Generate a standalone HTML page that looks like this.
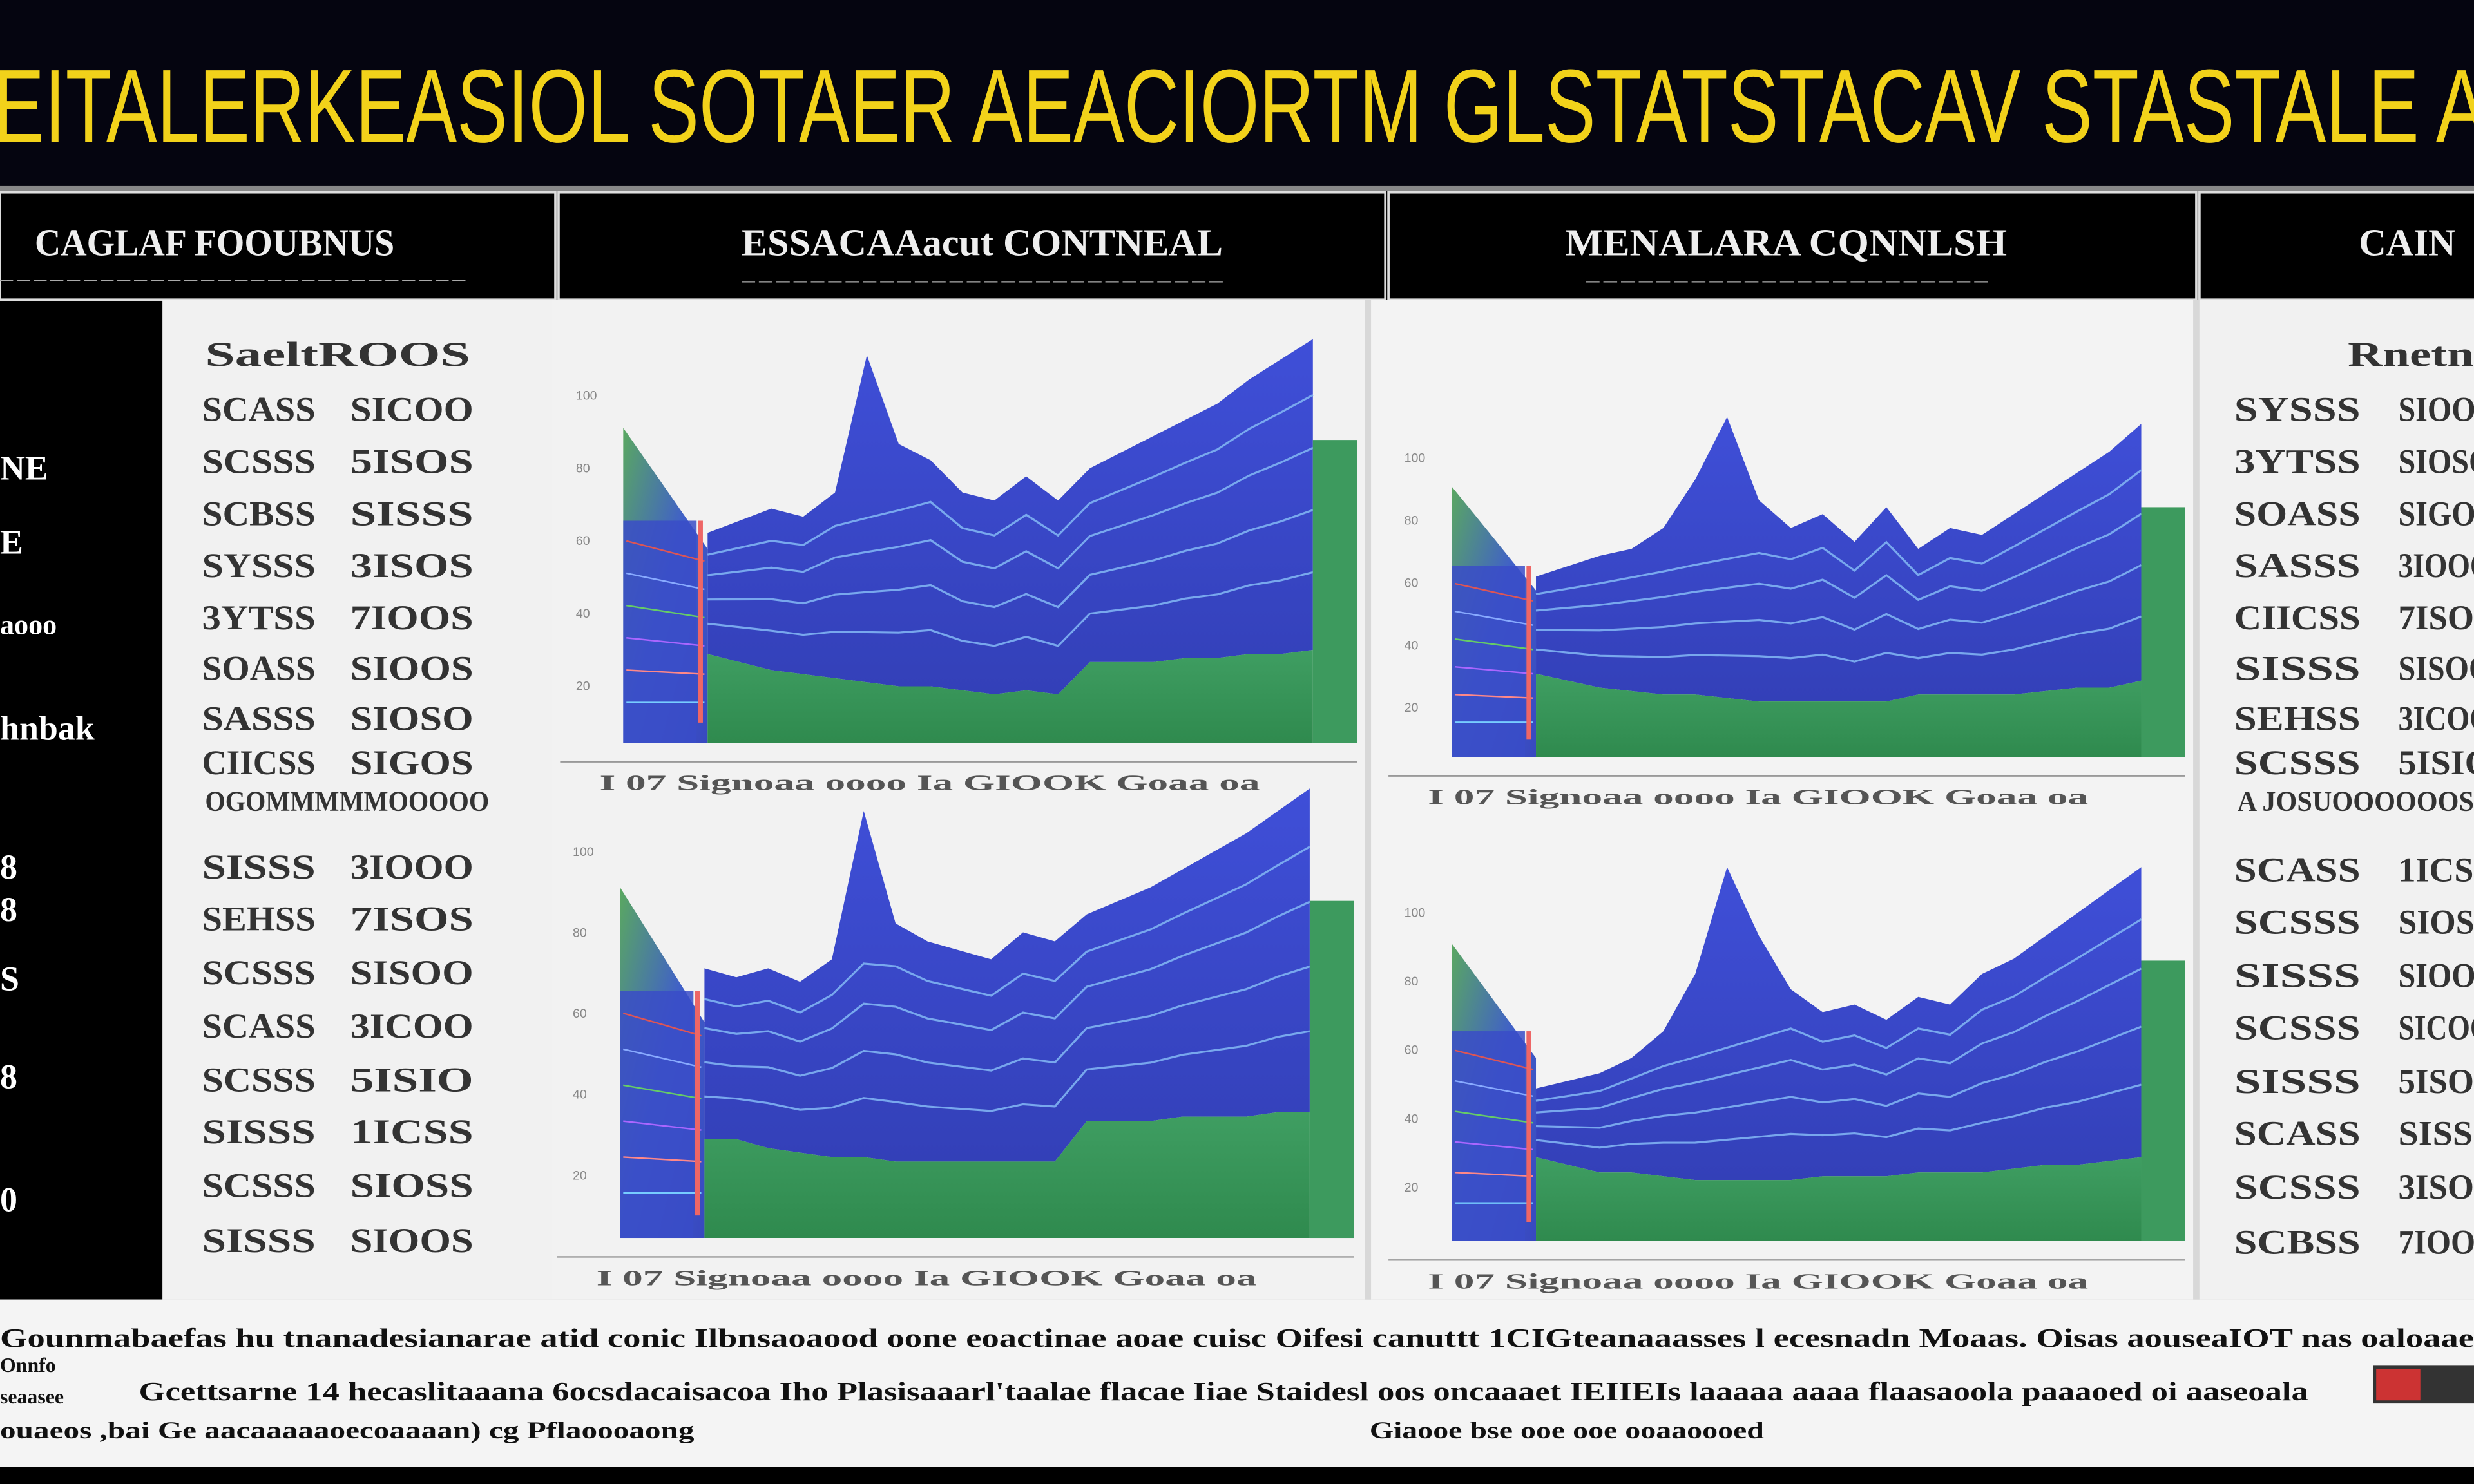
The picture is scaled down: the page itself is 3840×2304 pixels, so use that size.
<!DOCTYPE html>
<html><head><meta charset="utf-8">
<style>
html,body{margin:0;padding:0;background:#000;}
svg{display:block;}
.t{font-family:"Liberation Serif",serif;font-weight:bold;}
.s{font-family:"Liberation Sans",sans-serif;}
</style></head>
<body>
<svg id="page" width="3840" height="2304" viewBox="0 0 1568 941" preserveAspectRatio="none" xmlns="http://www.w3.org/2000/svg">
<defs>
<linearGradient id="blueG" x1="0" y1="0" x2="0" y2="1"><stop offset="0" stop-color="#3f4fd8"/><stop offset="1" stop-color="#3340b8"/></linearGradient>
<linearGradient id="greenG" x1="0" y1="0" x2="0" y2="1"><stop offset="0" stop-color="#3f9e62"/><stop offset="1" stop-color="#2f8a4e"/></linearGradient>
<linearGradient id="wedgeG" x1="0" y1="0" x2="1" y2="1"><stop offset="0" stop-color="#5aa860"/><stop offset="0.5" stop-color="#4060c8"/><stop offset="1" stop-color="#3848c0"/></linearGradient>
</defs>
<rect width="1568" height="941" fill="#000"/>
<rect x="0" y="0" width="1568" height="118" fill="#050510"/>
<text class="s" x="-4" y="90" font-size="66" fill="#f2d21a" textLength="1580" lengthAdjust="spacingAndGlyphs">EITALERKEASIOL SOTAER AEACIORTM GLSTATSTACAV STASTALE A</text>
<rect x="0" y="118" width="1568" height="3" fill="#888"/>
<g>
<rect x="0" y="122" width="352" height="68" fill="#000" stroke="#ddd" stroke-width="1.5"/>
<rect x="354" y="122" width="524" height="68" fill="#000" stroke="#ddd" stroke-width="1.5"/>
<rect x="880" y="122" width="512" height="68" fill="#000" stroke="#ddd" stroke-width="1.5"/>
<rect x="1394" y="122" width="180" height="68" fill="#000" stroke="#ddd" stroke-width="1.5"/>
<text class="t" x="22" y="162" font-size="24" fill="#eee" textLength="228" lengthAdjust="spacingAndGlyphs">CAGLAF FOOUBNUS</text>
<text class="t" x="470" y="162" font-size="24" fill="#eee" textLength="305" lengthAdjust="spacingAndGlyphs">ESSACAAacut CONTNEAL</text>
<text class="t" x="992" y="162" font-size="24" fill="#eee" textLength="280" lengthAdjust="spacingAndGlyphs">MENALARA CQNNLSH</text>
<text class="t" x="1495" y="162" font-size="24" fill="#eee">CAIN</text>
<text class="s" x="0" y="180" font-size="8" fill="#aaa" textLength="295" lengthAdjust="spacingAndGlyphs">— — — — — — — — — — — — — — — — — — — — — — — — — — — —</text>
<text class="s" x="470" y="181" font-size="8" fill="#aaa" textLength="305" lengthAdjust="spacingAndGlyphs">— — — — — — — — — — — — — — — — — — — — — — — — — — — —</text>
<text class="s" x="1005" y="181" font-size="8" fill="#aaa" textLength="255" lengthAdjust="spacingAndGlyphs">— — — — — — — — — — — — — — — — — — — — — — —</text>
</g>
<rect x="103" y="190" width="1465" height="634" fill="#eeeeee"/>
<rect x="103" y="190" width="247" height="634" fill="#f1f1f1"/>
<rect x="350" y="190" width="515" height="634" fill="#f2f2f2"/>
<rect x="865" y="190" width="4" height="634" fill="#d8d8d8"/>
<rect x="869" y="190" width="521" height="634" fill="#f3f3f3"/>
<rect x="1390" y="190" width="4" height="634" fill="#d8d8d8"/>
<rect x="1394" y="190" width="174" height="634" fill="#f1f1f1"/>
<g id="leftStrip" class="t" fill="#fff" font-size="22">
<text x="0" y="304">NE</text><text x="0" y="351">E</text><text x="0" y="402" font-size="18">aooo</text>
<text x="0" y="469">hnbak</text><text x="0" y="557">8</text><text x="0" y="584">8</text><text x="0" y="628">S</text><text x="0" y="690">8</text><text x="0" y="768">0</text>
</g>
<g id="tables"></g>
<g id="charts"></g>
<rect x="0" y="824" width="1568" height="106" fill="#f4f4f4"/>
<g class="t" fill="#111">
<text x="0" y="854" font-size="17" textLength="1568" lengthAdjust="spacingAndGlyphs">Gounmabaefas hu tnanadesianarae atid conic Ilbnsaoaood oone eoactinae aoae cuisc Oifesi canuttt 1CIGteanaaasses l ecesnadn Moaas. Oisas aouseaIOT nas oaloaae</text>
<text x="0" y="870" font-size="13">Onnfo</text>
<text x="0" y="890" font-size="13">seaasee</text>
<text x="88" y="888" font-size="17" textLength="1375" lengthAdjust="spacingAndGlyphs">Gcettsarne 14 hecaslitaaana  6ocsdacaisacoa Iho Plasisaaarl'taalae flacae Iiae Staidesl oos oncaaaet IEIIEIs laaaaa aaaa flaasaoola paaaoed oi aaseoala</text>
<text x="0" y="912" font-size="15" textLength="440" lengthAdjust="spacingAndGlyphs">ouaeos ,bai Ge aacaaaaaoecoaaaan) cg Pflaoooaong</text>
<text x="868" y="912" font-size="15" textLength="250" lengthAdjust="spacingAndGlyphs">Giaooe bse ooe ooe ooaaoooed</text>
<rect x="1504" y="866" width="64" height="24" fill="#333"/><rect x="1506" y="868" width="28" height="20" fill="#c33"/>
</g>
</svg>
<script>
const envTopA = [52,55,58,56,62,96,74,70,62,60,66,60,68,72,76,80,84,90,95,100];
const greenTopA = [22,20,18,17,16,15,14,14,13,12,13,12,20,20,20,21,21,22,22,23];
const envBotA = [60,58,60,57,62,95,70,66,64,62,68,66,72,75,78,82,86,90,95,100];
const greenBotA = [22,22,20,19,18,18,17,17,17,17,17,17,26,26,26,27,27,27,28,28];
const envTopB = [52,55,58,60,66,80,98,74,66,70,62,72,60,66,64,70,76,82,88,96];
const greenTopB = [24,22,20,19,18,18,17,16,16,16,16,16,18,18,18,18,19,20,20,22];
const envBotB = [40,42,44,48,55,70,98,80,66,60,62,58,64,62,70,74,80,86,92,98];
const greenBotB = [22,20,18,18,17,16,16,16,16,17,17,17,18,18,18,19,20,20,21,22];
const lineLevels = [0.25,0.45,0.65,0.82];
const yTickLabels = ["100","80","60","40","20"];

const NS="http://www.w3.org/2000/svg";
function mk(tag,attrs,parent){const e=document.createElementNS(NS,tag);for(const k in attrs)e.setAttribute(k,attrs[k]);parent.appendChild(e);return e;}
const charts=document.getElementById('charts');
function drawChart(name,x0,y0,w,h,env,green){
  const g=mk('g',{},charts);
  
  
  const mx0=x0+0.115*w, mx1=x0+0.94*w;
  const xs=i=>mx0+(mx1-mx0)*i/(env.length-1);
  const ys=v=>y0+h-v/100*h;
  yTickLabels.forEach((lab,i)=>{
    const t=mk('text',{x:x0-30,y:y0+h*0.15+i*h*0.18,'font-size':8,fill:'#888','font-family':'Liberation Sans'},g);
    t.textContent=lab;
    
    
  });
  const lw=mk('polygon',{points:`${x0},${y0+h*0.22} ${x0+0.05*w},${y0+h*0.35} ${mx0},${y0+h*0.52} ${mx0},${y0+h} ${x0},${y0+h}`,fill:'url(#wedgeG)'},g);
  
  
  mk('rect',{x:x0,y:y0+h*0.45,width:0.1*w,height:h*0.55,fill:'#3a4cc8',opacity:0.85},g);
  for(let k=0;k<6;k++)mk('line',{x1:x0+2,y1:y0+h*(0.5+k*0.08),x2:mx0-2,y2:y0+h*(0.55+k*0.07),stroke:['#d55','#8af','#6c6','#a6f','#f88','#7cf'][k],'stroke-width':1},g);
  mk('rect',{x:mx0-6,y:y0+h*0.45,width:3,height:h*0.5,fill:'#e66'},g);
  let top=env.map((v,i)=>`${xs(i)},${ys(v)}`).join(' ');
  let bot=green.map((v,i)=>`${xs(i)},${ys(v)}`).reverse().join(' ');
  const ba=mk('polygon',{points:top+' '+bot,fill:'url(#blueG)'},g);
  
  
  const ga=mk('polygon',{points:green.map((v,i)=>`${xs(i)},${ys(v)}`).join(' ')+` ${mx1},${y0+h} ${mx0},${y0+h}`,fill:'url(#greenG)'},g);
  
  
  lineLevels.forEach(k=>{
    const pts=env.map((v,i)=>{const base=green[i]+(Math.min(v,env[0]+(env[env.length-1]-env[0])*i/(env.length-1))-green[i])*k;return `${xs(i)},${ys(base)}`;}).join(' ');
    const pl=mk('polyline',{points:pts,fill:'none',stroke:'#7fb2f2','stroke-width':1.3,opacity:0.9},g);
    
    
  });
  const rs=mk('rect',{x:mx1,y:ys(env[env.length-1]*0.75),width:x0+w-mx1,height:y0+h-ys(env[env.length-1]*0.75),fill:'#3d9a5e'},g);
  
  
  mk('line',{x1:x0-40,y1:y0+h+12,x2:x0+w,y2:y0+h+12,stroke:'#999','stroke-width':1},g);
  const xl=mk('text',{x:x0-15,y:y0+h+30,'font-size':14,fill:'#555','font-family':'Liberation Serif','font-weight':'bold',textLength:w*0.9,lengthAdjust:'spacingAndGlyphs'},g);
  xl.textContent='I 07 Signoaa   oooo   Ia GIOOK Goaa oa';
  
  
}
drawChart('chart-top-left',395,215,465,256,envTopA,greenTopA);
drawChart('chart-bottom-left',393,500,465,285,envBotA,greenBotA);
drawChart('chart-top-right',920,260,465,220,envTopB,greenTopB);
drawChart('chart-bottom-right',920,545,465,242,envBotB,greenBotB);

const tables=document.getElementById('tables');
const leftRowsY=[260,293,326,359,392,424,456,484,550,583,617,651,685,718,752,787];
const leftA=["SCASS","SCSSS","SCBSS","SYSSS","3YTSS","SOASS","SASSS","CIICSS","SISSS","SEHSS","SCSSS","SCASS","SCSSS","SISSS","SCSSS","SISSS"];
const leftB=["SICOO","5ISOS","SISSS","3ISOS","7IOOS","SIOOS","SIOSO","SIGOS","3IOOO","7ISOS","SISOO","3ICOO","5ISIO","1ICSS","SIOSS","SIOOS"];
function tx(x,y,s,fs,name,parent,len){const t=mk('text',{x:x,y:y,'font-size':fs,fill:'#333','class':'t'},parent);if(len){t.setAttribute('textLength',len);t.setAttribute('lengthAdjust','spacingAndGlyphs');}t.textContent=s;return t;}
tx(130,232,"SaeltROOS",22,'left-table-title',tables,168);
leftRowsY.forEach((y,i)=>{tx(128,y+7,leftA[i],22,'left-table-cell',tables,72);tx(222,y+7,leftB[i],22,'left-table-cell',tables,78);});
tx(130,514,"OGOMMMMMOOOOO",18,'left-table-divider',tables,180);
const rightRowsY=[260,293,326,359,392,424,456,484,552,585,619,652,686,719,753,788];
rightRowsY.forEach((y,i)=>{tx(1416,y+7,leftA[(i+3)%16],22,'right-table-cell',tables,80);tx(1520,y+7,leftB[(i+5)%16],22,'right-table-cell',tables,60);});
tx(1488,232,"Rnetn",22,'right-table-title',tables,80);
tx(1418,514,"A JOSUOOOOOOS",18,'right-table-divider',tables,150);
</script>
</body></html>
